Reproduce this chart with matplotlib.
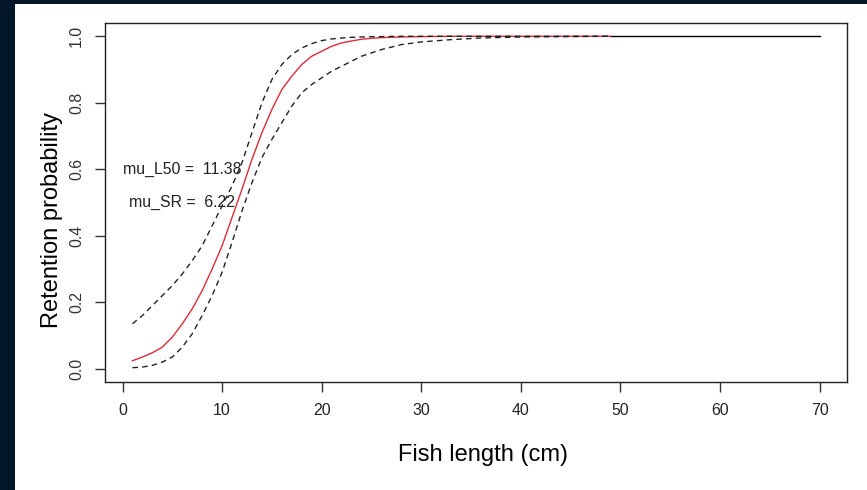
import matplotlib.pyplot as plt
from matplotlib.patches import Rectangle

plt.rcParams['font.family'] = ['Liberation Sans', 'DejaVu Sans']

# fitted retention curve (posterior mean) and 95% band
length_cm = [1, 2, 3, 4, 5, 6, 7, 8, 9, 10, 11, 12, 13, 14, 15, 16, 17, 18, 19, 20,
             21, 22, 23, 24, 25, 26, 28, 30, 33, 36, 40, 45, 49]
ret_mean = [0.024, 0.035, 0.048, 0.065, 0.095, 0.135, 0.18, 0.235, 0.30, 0.37,
            0.455, 0.54, 0.63, 0.71, 0.78, 0.84, 0.88, 0.915, 0.94, 0.955,
            0.97, 0.98, 0.986, 0.991, 0.994, 0.996, 0.998, 0.999, 1.0, 1.0,
            1.0, 1.0, 1.0]
ret_upper = [0.135, 0.16, 0.19, 0.22, 0.25, 0.285, 0.325, 0.37, 0.43, 0.49,
             0.55, 0.62, 0.71, 0.80, 0.87, 0.915, 0.945, 0.965, 0.978, 0.987,
             0.992, 0.995, 0.997, 0.998, 0.999, 0.999, 1.0, 1.0, 1.0, 1.0,
             1.0, 1.0, 1.0]
ret_lower = [0.003, 0.005, 0.01, 0.02, 0.035, 0.065, 0.105, 0.16, 0.22, 0.29,
             0.38, 0.475, 0.56, 0.635, 0.69, 0.74, 0.79, 0.83, 0.855, 0.875,
             0.895, 0.91, 0.925, 0.94, 0.95, 0.96, 0.975, 0.983, 0.99, 0.995,
             0.998, 0.999, 1.0]

# larger fish: full retention
full_len = [49, 70]
full_ret = [1.0, 1.0]

mu_L50 = 11.38
mu_SR = 6.22

fig = plt.figure(figsize=(8.67, 4.9), dpi=100, facecolor='#03162a')
fig.add_artist(Rectangle((15 / 867, 0), 1, 1 - 4 / 490, transform=fig.transFigure,
                         facecolor='white', edgecolor='none', zorder=-10))

ax = fig.add_axes([105 / 867, (490 - 382) / 490, (847 - 105) / 867, (382 - 23) / 490])

ax.plot(full_len, full_ret, color='black', lw=1)
ax.plot(length_cm, ret_mean, color='#dd2b3a', lw=1)
ax.plot(length_cm, ret_upper, color='#222222', lw=1, ls=(0, (4, 3)))
ax.plot(length_cm, ret_lower, color='#222222', lw=1, ls=(0, (4, 3)))

ax.text(6, 0.6, f'mu_L50 =  {mu_L50:.2f}', ha='center', va='center', fontsize=11.4, color='#222222')
ax.text(6, 0.5, f'mu_SR =  {mu_SR:.2f}', ha='center', va='center', fontsize=11.4, color='#222222')

ax.set_xlim(-1.76, 72.76)
ax.set_ylim(-0.04, 1.04)
ax.set_xticks(range(0, 71, 10))
ax.set_yticks([0.0, 0.2, 0.4, 0.6, 0.8, 1.0])
ax.set_yticklabels(['0.0', '0.2', '0.4', '0.6', '0.8', '1.0'], rotation=90, va='center')
ax.tick_params(direction='out', length=7, width=1, labelsize=11.4, colors='#333333', pad=8)
ax.tick_params(axis='x', labelcolor='#222222')
for s in ax.spines.values():
    s.set_color('#222222')
    s.set_linewidth(1)

ax.set_xlabel('Fish length (cm)', fontsize=17)
ax.set_ylabel('Retention probability', fontsize=17)
ax.xaxis.set_label_coords(0.509, -0.203)
ax.yaxis.set_label_coords(-0.0714, 0.451)
ax.xaxis.label.set_va('center')
ax.yaxis.label.set_va('center')

fig.savefig('out.png', dpi=100, facecolor=fig.get_facecolor())
